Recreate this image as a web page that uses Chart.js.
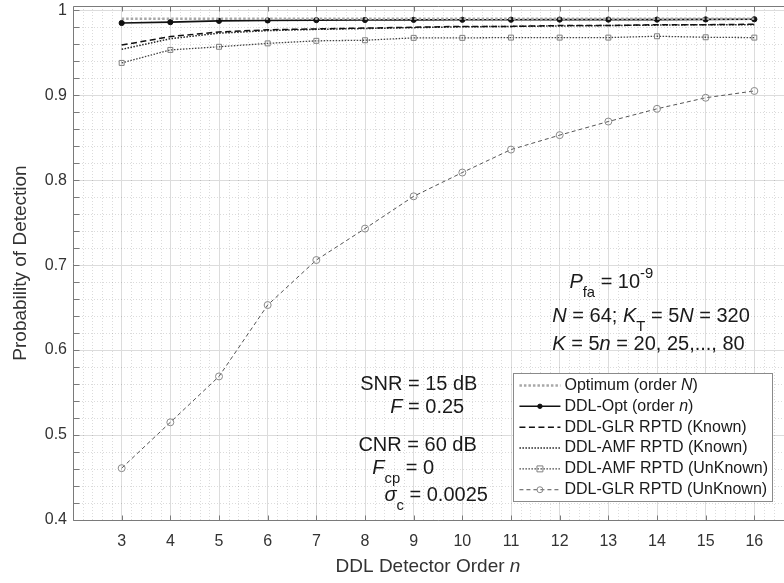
<!DOCTYPE html>
<html><head><meta charset="utf-8">
<script src="https://cdn.jsdelivr.net/npm/chart.js@4"></script>
<style>
html,body{margin:0;padding:0;overflow:hidden;background:#fff;width:784px;height:583px}
canvas{display:block}
</style></head>
<body>
<canvas id="c" width="810" height="583" style="width:810px;height:583px"></canvas>
<script>
// ---- data ----
const orders = [3,4,5,6,7,8,9,10,11,12,13,14,15,16];
const optimumN   = [0.990,0.990,0.990,0.990,0.990,0.990,0.990,0.990,0.990,0.990,0.990,0.990,0.990,0.990];
const ddlOpt     = [0.985,0.986,0.9875,0.988,0.9884,0.9886,0.9887,0.9888,0.9889,0.989,0.989,0.989,0.9892,0.9894];
const glrKnown   = [0.959,0.969,0.9745,0.977,0.978,0.979,0.980,0.981,0.981,0.982,0.982,0.983,0.983,0.9835];
const amfKnown   = [0.954,0.9665,0.973,0.976,0.9775,0.9785,0.9795,0.9805,0.981,0.9815,0.982,0.9825,0.983,0.983];
const amfUnknown = [0.938,0.9533,0.957,0.961,0.964,0.9647,0.9675,0.9675,0.9678,0.9678,0.9678,0.9694,0.9682,0.9678];
const glrUnknown = [0.461,0.515,0.569,0.653,0.706,0.743,0.781,0.809,0.836,0.853,0.869,0.884,0.897,0.905];
const seriesNames = [
  [{t:'Optimum (order '},{t:'N',i:1},{t:')'}],
  [{t:'DDL-Opt (order '},{t:'n',i:1},{t:')'}],
  [{t:'DDL-GLR RPTD (Known)'}],
  [{t:'DDL-AMF RPTD (Known)'}],
  [{t:'DDL-AMF RPTD (UnKnown)'}],
  [{t:'DDL-GLR RPTD (UnKnown)'}]
];
const xTickLabels = ['3','4','5','6','7','8','9','10','11','12','13','14','15','16'];
const yTickLabels = ['0.4','0.5','0.6','0.7','0.8','0.9','1'];
const xTitle = [{t:'DDL Detector Order '},{t:'n',i:1}];
const yTitle = 'Probability of Detection';
// annotation texts, anchored in data coordinates [x, y]
const annotations = [
  {at:[12.2,0.680],  segs:[{t:'P',i:1},{t:'fa',sub:1},{t:' = 10'},{t:'-9',sup:1}]},
  {at:[11.85,0.640], segs:[{t:'N',i:1},{t:' = 64; '},{t:'K',i:1},{t:'T',sub:1},{t:' = 5'},{t:'N',i:1},{t:' = 320'}]},
  {at:[11.85,0.607], segs:[{t:'K',i:1},{t:' = 5'},{t:'n',i:1},{t:' = 20, 25,..., 80'}]},
  {at:[7.9,0.559],   segs:[{t:'SNR = 15 dB'}]},
  {at:[8.52,0.533],  segs:[{t:'F',i:1},{t:' = 0.25'}]},
  {at:[7.865,0.488], segs:[{t:'CNR = 60 dB'}]},
  {at:[8.15,0.461],  segs:[{t:'F',i:1},{t:'cp',sub:1},{t:' = 0'}]},
  {at:[8.40,0.429],  segs:[{t:'σ',i:1},{t:'c',sub:1},{t:' = 0.0025'}]}
];

const FONT = '"Liberation Sans", Arial, Helvetica, sans-serif';
const pts = arr => orders.map((n,k)=>({x:n,y:arr[k]}));

function richWidth(ctx, segs, size){
  let w = 0;
  for (const s of segs){
    const fs = (s.sub || s.sup) ? size*0.74 : size;
    ctx.font = (s.i ? 'italic ' : '') + fs + 'px ' + FONT;
    w += ctx.measureText(s.t).width;
  }
  return w;
}
function drawRich(ctx, x, y, segs, size){
  let cx = x;
  ctx.textBaseline = 'middle';
  ctx.textAlign = 'left';
  for (const s of segs){
    const small = s.sub || s.sup;
    const fs = small ? size*0.74 : size;
    ctx.font = (s.i ? 'italic ' : '') + fs + 'px ' + FONT;
    const dy = s.sub ? size*0.55 : (s.sup ? -size*0.42 : 0);
    ctx.fillText(s.t, cx, y + dy);
    cx += ctx.measureText(s.t).width;
  }
  return cx;
}

const decor = {
  id: 'decor',
  beforeDatasetsDraw(chart){
    const {ctx, chartArea:a, scales:{x,y}} = chart;
    ctx.save();
    ctx.beginPath();
    ctx.rect(a.left, a.top, a.right-a.left, a.bottom-a.top);
    ctx.clip();
    ctx.strokeStyle = 'rgba(0,0,0,0.14)';
    ctx.lineWidth = 1;
    ctx.setLineDash([1,2]);
    ctx.beginPath();
    for (let k=1;k<75;k++){
      if (k%5===0) continue;
      const px = Math.round(x.getPixelForValue(2+k*0.2))+0.5;
      ctx.moveTo(px,a.top); ctx.lineTo(px,a.bottom);
    }
    for (let k=1;k<31;k++){
      if (k%5===0) continue;
      const py = Math.round(y.getPixelForValue(0.4+k*0.02))+0.5;
      ctx.moveTo(a.left,py); ctx.lineTo(a.right,py);
    }
    ctx.stroke();
    ctx.restore();
  },
  afterDatasetsDraw(chart){
    const {ctx, chartArea:a, scales:{x,y}} = chart;
    ctx.save();
    ctx.strokeStyle = '#7a7a7a';
    ctx.lineWidth = 1;
    ctx.setLineDash([]);
    ctx.beginPath();
    const L = Math.round(a.left)+0.5, B = Math.round(a.bottom)+0.5, T = Math.round(a.top)+0.5;
    ctx.moveTo(L,B); ctx.lineTo(L,T); ctx.lineTo(a.right,T);
    ctx.moveTo(L,B); ctx.lineTo(a.right,B);
    for (const n of orders){
      const px = Math.round(x.getPixelForValue(n))+0.5;
      ctx.moveTo(px,B); ctx.lineTo(px,B-5);
      ctx.moveTo(px,T); ctx.lineTo(px,T+5);
    }
    for (let k=0;k<=30;k++){
      const py = Math.round(y.getPixelForValue(0.4+k*0.02))+0.5;
      ctx.moveTo(L,py); ctx.lineTo(L+6,py);
    }
    ctx.stroke();
    // annotations
    ctx.fillStyle = '#1a1a1a';
    for (const an of annotations){
      drawRich(ctx, x.getPixelForValue(an.at[0]), y.getPixelForValue(an.at[1]), an.segs, 20);
    }
    // x axis title
    ctx.fillStyle = '#333';
    const w = richWidth(ctx, xTitle, 19);
    drawRich(ctx, (x.left + x.right)/2 - 10 - w/2, 567, xTitle, 19);
    ctx.restore();
  },
  afterDraw(chart){
    const {ctx, scales:{x,y}} = chart;
    const bx0 = x.getPixelForValue(11.05), bx1 = x.getPixelForValue(16.37);
    const by0 = y.getPixelForValue(0.5725), by1 = y.getPixelForValue(0.4215);
    ctx.save();
    ctx.fillStyle = '#fff';
    ctx.fillRect(bx0, by0, bx1-bx0, by1-by0);
    ctx.strokeStyle = '#8a8a8a';
    ctx.lineWidth = 1;
    ctx.strokeRect(Math.round(bx0)+0.5, Math.round(by0)+0.5, Math.round(bx1-bx0), Math.round(by1-by0));
    const rowH = (by1-by0-24)/5;
    chart.data.datasets.forEach((ds,i)=>{
      const cy = by0 + 12 + i*rowH;
      const lx0 = bx0+6, lx1 = bx0+47;
      ctx.save();
      ctx.strokeStyle = ds.borderColor;
      ctx.lineWidth = ds.borderWidth;
      ctx.setLineDash(ds.borderDash || []);
      ctx.beginPath(); ctx.moveTo(lx0,cy); ctx.lineTo(lx1,cy); ctx.stroke();
      ctx.setLineDash([]);
      if (ds.pointRadius > 0){
        const mx = (lx0+lx1)/2;
        ctx.lineWidth = ds.pointBorderWidth || 1;
        ctx.strokeStyle = ds.pointBorderColor;
        ctx.fillStyle = ds.pointBackgroundColor;
        const r = ds.pointRadius*0.85;
        ctx.beginPath();
        if (ds.pointStyle === 'rect'){ ctx.rect(mx-r, cy-r, 2*r, 2*r); }
        else { ctx.arc(mx, cy, r, 0, Math.PI*2); }
        if (ds.pointBackgroundColor !== 'rgba(0,0,0,0)') ctx.fill();
        ctx.stroke();
      }
      ctx.restore();
      ctx.fillStyle = '#1a1a1a';
      drawRich(ctx, lx1+4, cy, seriesNames[i], 16);
    });
    ctx.restore();
  }
};

new Chart(document.getElementById('c'), {
  type: 'line',
  data: {
    datasets: [
      {data: pts(optimumN), borderColor:'#a8a8a8', borderWidth:2.6, borderDash:[2.5,2], pointRadius:0, pointBorderColor:'#a8a8a8', pointBackgroundColor:'#a8a8a8'},
      {data: pts(ddlOpt), borderColor:'#111', borderWidth:1.6, pointRadius:2.6, pointStyle:'circle', pointBorderColor:'#111', pointBackgroundColor:'#111', pointBorderWidth:1},
      {data: pts(glrKnown), borderColor:'#111', borderWidth:1.5, borderDash:[6,3.5], pointRadius:0, pointBorderColor:'#111', pointBackgroundColor:'#111'},
      {data: pts(amfKnown), borderColor:'#222', borderWidth:1.5, borderDash:[1.5,1.5], pointRadius:0, pointBorderColor:'#222', pointBackgroundColor:'#222'},
      {data: pts(amfUnknown), borderColor:'#444', borderWidth:1.3, borderDash:[1.5,1.5], pointRadius:3.5, pointStyle:'rect', pointBorderColor:'#808080', pointBackgroundColor:'rgba(0,0,0,0)', pointBorderWidth:1},
      {data: pts(glrUnknown), borderColor:'#555', borderWidth:1, borderDash:[4,3], pointRadius:3.5, pointStyle:'circle', pointBorderColor:'#8a8a8a', pointBackgroundColor:'rgba(0,0,0,0)', pointBorderWidth:1}
    ]
  },
  options: {
    responsive: false,
    animation: false,
    devicePixelRatio: 1,
    layout: {padding: {top: 6, right: 7, left: 0, bottom: 0}},
    plugins: {legend: {display: false}, tooltip: {enabled: false}},
    elements: {line: {tension: 0}},
    scales: {
      x: {
        type: 'linear', min: 2, max: 17,
        afterFit: s => { s.height = 63; s.paddingLeft = 0; s.paddingRight = 0; },
        afterBuildTicks: s => { s.ticks = [2].concat(orders, [17]).map(v=>({value:v})); },
        ticks: {
          stepSize: 1, padding: 12, color: '#333', font: {family: FONT, size: 16},
          callback: (v) => { const k = orders.indexOf(v); return k >= 0 ? xTickLabels[k] : ''; },
          maxRotation: 0, autoSkip: false
        },
        grid: {color: '#dcdcdc', lineWidth: 1, drawTicks: false},
        border: {display: false},
        title: {display: false}
      },
      y: {
        type: 'linear', min: 0.4, max: 1.005,
        afterFit: s => { s.width = 73; s.paddingTop = 0; s.paddingBottom = 0; },
        afterBuildTicks: s => { s.ticks = yTickLabels.map(t=>({value: parseFloat(t)})); },
        ticks: {
          padding: 6, color: '#333', font: {family: FONT, size: 16},
          callback: (v) => { const k = yTickLabels.findIndex(t => Math.abs(parseFloat(t)-v) < 1e-9); return k >= 0 ? yTickLabels[k] : ''; }
        },
        grid: {color: '#dcdcdc', lineWidth: 1, drawTicks: false},
        border: {display: false},
        title: {display: true, text: yTitle, color: '#333', font: {family: FONT, size: 19, lineHeight: 1}, padding: {top: 11, bottom: 0}}
      }
    }
  },
  plugins: [decor]
});
</script>
</body></html>
